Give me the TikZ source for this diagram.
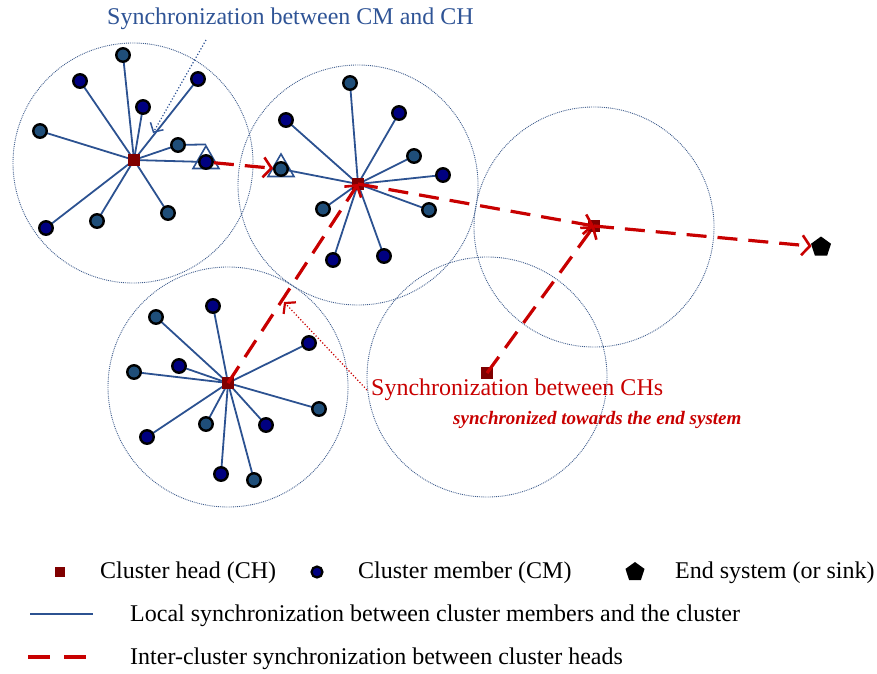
\documentclass[tikz,border=0pt]{standalone}
\usepackage{fontspec}
\setmainfont{Liberation Serif}
\usetikzlibrary{arrows.meta,shapes.geometric,backgrounds}

\definecolor{linkblue}{RGB}{44,82,145}
\definecolor{rangeblue}{RGB}{62,92,140}
\definecolor{navyfill}{RGB}{0,0,128}
\definecolor{steelfill}{RGB}{31,78,121}
\definecolor{chred}{RGB}{128,0,0}
\definecolor{syncred}{RGB}{200,0,0}
\definecolor{labelblue}{RGB}{47,84,150}

\tikzset{
  member/.style={circle, draw=black, line width=2.4pt, minimum size=13.5pt, inner sep=0pt},
  navymember/.style={member, fill=navyfill},
  steelmember/.style={member, fill=steelfill},
  chnode/.style={rectangle, fill=chred, minimum size=12pt, inner sep=0pt},
  sinknode/.style={regular polygon, regular polygon sides=5, fill=black, minimum size=21pt, inner sep=0pt},
  coverage/.style={draw=rangeblue, densely dotted, line width=0.9pt},
  locallink/.style={draw=linkblue, line width=1.8pt},
  gate/.style={regular polygon, regular polygon sides=3, draw=linkblue, line width=1.6pt, minimum size=30pt, inner sep=0pt},
  intertip/.style={-{Straight Barb[length=8pt,width=20pt,line width=2.6pt]}},
  interlink/.style={draw=syncred, line width=3.2pt, dash pattern=on 20pt off 11pt, intertip},
  txt/.style={anchor=west, inner sep=0pt, font=\fontsize{24}{28}\selectfont},
}

\begin{document}
\begin{tikzpicture}[x=1pt,y=-1pt]
\useasboundingbox (0,0) rectangle (877,673);

% cluster heads and sink
\node[chnode] (ch1) at (134,160) {};
\node[chnode] (ch2) at (358,184) {};
\node[chnode] (ch3) at (228,383) {};
\node[chnode] (ch4) at (594,226) {};
\node[chnode] (ch5) at (487,373) {};
\node[sinknode] (sink) at (821,247) {};

% gateway triangles
\node[gate] (tri1) at (206,161) {};
\node[gate] (tri2) at (281,169) {};

% cluster 1 members
\node[steelmember] (a1) at (123,55) {};
\node[navymember]  (a2) at (80,81) {};
\node[navymember]  (a3) at (143,107) {};
\node[navymember]  (a4) at (198,79) {};
\node[steelmember] (a5) at (40,131) {};
\node[steelmember] (a6) at (178,145) {};
\node[navymember]  (g1) at (206,162) {};
\node[navymember]  (a7) at (46,228) {};
\node[steelmember] (a8) at (97,221) {};
\node[steelmember] (a9) at (168,213) {};

% cluster 2 members
\node[steelmember] (b1) at (350,83) {};
\node[navymember]  (b2) at (286,120) {};
\node[navymember]  (b3) at (399,113) {};
\node[steelmember] (b4) at (414,156) {};
\node[navymember]  (b5) at (443,175) {};
\node[steelmember] (g2) at (281,169) {};
\node[steelmember] (b6) at (429,210) {};
\node[steelmember] (b7) at (323,209) {};
\node[navymember]  (b8) at (333,260) {};
\node[navymember]  (b9) at (384,256) {};

% cluster 3 members
\node[navymember]  (c1) at (213,306) {};
\node[steelmember] (c2) at (156,317) {};
\node[navymember]  (c3) at (309,343) {};
\node[navymember]  (c4) at (179,366) {};
\node[steelmember] (c5) at (134,372) {};
\node[steelmember] (c6) at (319,409) {};
\node[navymember]  (c7) at (147,437) {};
\node[steelmember] (c8) at (206,424) {};
\node[navymember]  (c9) at (266,425) {};
\node[navymember]  (c10) at (221,474) {};
\node[steelmember] (c11) at (254,480) {};

\begin{scope}[on background layer]
  % radio ranges of the clusters
  \draw[coverage] (133,163) circle[radius=120];
  \draw[coverage] (358,185) circle[radius=120];
  \draw[coverage] (228,387) circle[radius=120];
  \draw[coverage] (594,227) circle[radius=120];
  \draw[coverage] (487,377) circle[radius=120];
  % local synchronization links
  \foreach \m in {a1,a2,a3,a4,a5,a6,g1,a7,a8,a9}
    \draw[locallink] (ch1.center) -- (\m.center);
  \draw[locallink] (a6.center) -- (tri1.north);
  \foreach \m in {b1,b2,b3,b4,b5,g2,b6,b7,b8,b9}
    \draw[locallink] (ch2.center) -- (\m.center);
  \foreach \m in {c1,c2,c3,c4,c5,c6,c7,c8,c9,c10,c11}
    \draw[locallink] (ch3.center) -- (\m.center);
\end{scope}

% inter-cluster synchronization
\draw[interlink] (g1) -- (g2);
\draw[interlink] (ch3.center) -- (ch2.center);
\draw[interlink] (ch2.center) -- (ch4.center);
\draw[interlink] (ch5.center) -- (ch4.center);
\draw[interlink] (ch4.center) -- (sink);

% annotations
\node[txt, text=labelblue] (cmlabel) at (107,19) {Synchronization between CM and CH};
\coordinate (cmfrom) at (206,40);
\coordinate (cmto) at (153,133);
\draw[labelblue, dotted, line width=1.2pt, -{Straight Barb[length=7pt,width=15pt,line width=1.5pt]}] (cmfrom) -- (cmto);

\node[txt, text=syncred] (chlabel) at (371,390) {Synchronization between CHs};
\coordinate (chto) at (284,302);
\draw[syncred, dotted, line width=1.2pt, -{Straight Barb[length=7pt,width=17pt,line width=2.2pt]}] ([xshift=-4pt]chlabel.west) -- (chto);
\node[anchor=west, inner sep=0pt, text=syncred, font=\fontsize{19}{22}\selectfont\bfseries\itshape] (endlabel) at (453,420) {synchronized towards the end system};

% legend
\node[chnode, minimum size=10pt] (lgch) at (60,572) {};
\node[txt] (lgchtext) at (100,573) {Cluster head (CH)};
\node[navymember, minimum size=11pt, line width=2.2pt] (lgcm) at (317,572) {};
\node[txt] (lgcmtext) at (358,573) {Cluster member (CM)};
\node[sinknode, minimum size=20pt] (lgsink) at (635,572) {};
\node[txt] (lgsinktext) at (675,573) {End system (or sink)};
\coordinate (lgl1) at (30,614);
\coordinate (lgl2) at (93,614);
\draw[locallink] (lgl1) -- (lgl2);
\node[txt] (lglocal) at (130,616) {Local synchronization between cluster members and the cluster};
\coordinate (lgi1) at (28,657);
\coordinate (lgi2) at (86,657);
\draw[draw=syncred, line width=3.2pt, dash pattern=on 22pt off 14pt] (lgi1) -- (lgi2);
\node[txt] (lginter) at (130,659) {Inter-cluster synchronization between cluster heads};
\end{tikzpicture}
\end{document}
